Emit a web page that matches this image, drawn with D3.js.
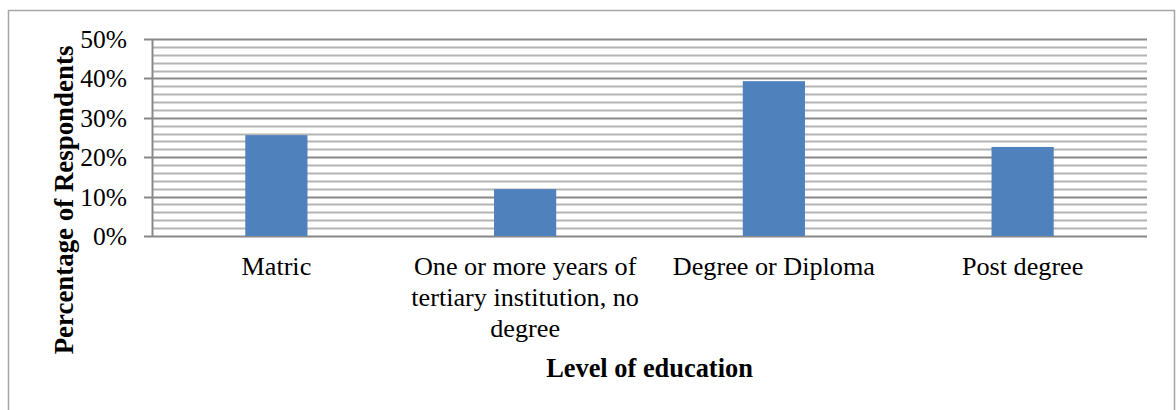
<!DOCTYPE html>
<html>
<head>
<meta charset="utf-8">
<script src="https://cdn.jsdelivr.net/npm/d3@7"></script>
<style>
  body { margin: 0; background: #fff; }
  svg { display: block; }
  text { font-family: "Liberation Serif", "Times New Roman", serif; fill: #000; }
</style>
</head>
<body>
<svg width="1176" height="410"></svg>
<script>
// data
var categories = ["Matric", "One or more years of tertiary institution, no degree", "Degree or Diploma", "Post degree"];
var categoryLines = [["Matric"], ["One or more years of", "tertiary institution, no", "degree"], ["Degree or Diploma"], ["Post degree"]];
var values = [25.6, 11.9, 39.3, 22.6];
var majorTicks = [0, 10, 20, 30, 40, 50];
var minorTicks = [2, 4, 6, 8, 12, 14, 16, 18, 22, 24, 26, 28, 32, 34, 36, 38, 42, 44, 46, 48];

var svg = d3.select("svg"),
    margin = {top: 39, right: 29, bottom: 174, left: 152},
    width = +svg.attr("width") - margin.left - margin.right,
    height = +svg.attr("height") - margin.top - margin.bottom;

// outer chart border
svg.append("rect")
    .attr("x", 8.5).attr("y", 10.5)
    .attr("width", 1166).attr("height", 430)
    .attr("fill", "none")
    .attr("stroke", "#a6a6a6")
    .attr("stroke-width", 1.5);

var g = svg.append("g").attr("transform", "translate(" + margin.left + "," + margin.top + ")");

var x = d3.scaleBand()
    .domain(categories)
    .range([0, width])
    .paddingInner(0.75)
    .paddingOuter(0.375);

var y = d3.scaleLinear()
    .domain([0, 50])
    .range([height, 0]);

// minor gridlines
g.append("g")
  .selectAll("line")
  .data(minorTicks)
  .enter().append("line")
    .attr("x1", 0).attr("x2", width)
    .attr("y1", function(d) { return Math.round(y(d)) + 0.5; })
    .attr("y2", function(d) { return Math.round(y(d)) + 0.5; })
    .attr("stroke", "#b4b4b4")
    .attr("stroke-width", 2);

// major gridlines (with the little tick to the left)
g.append("g")
  .selectAll("line")
  .data(majorTicks)
  .enter().append("line")
    .attr("x1", -8).attr("x2", width)
    .attr("y1", function(d) { return Math.round(y(d)) + 0.5; })
    .attr("y2", function(d) { return Math.round(y(d)) + 0.5; })
    .attr("stroke", "#888")
    .attr("stroke-width", 2);

// y axis line
g.append("line")
    .attr("x1", 0.5).attr("x2", 0.5)
    .attr("y1", 0).attr("y2", height)
    .attr("stroke", "#888")
    .attr("stroke-width", 2);

// bars
g.append("g")
  .selectAll("rect")
  .data(values)
  .enter().append("rect")
    .attr("x", function(d, i) { return x(categories[i]); })
    .attr("y", function(d) { return y(d); })
    .attr("width", x.bandwidth())
    .attr("height", function(d) { return height - y(d); })
    .attr("fill", "#4f81bd");

// y tick labels
g.append("g")
  .selectAll("text")
  .data(majorTicks)
  .enter().append("text")
    .attr("x", -25)
    .attr("y", function(d) { return y(d); })
    .attr("dy", "0.35em")
    .attr("text-anchor", "end")
    .attr("font-size", 25.5)
    .text(function(d) { return d + "%"; });

// category labels
var cat = g.append("g")
  .selectAll("text")
  .data(categories)
  .enter().append("text")
    .attr("text-anchor", "middle")
    .attr("font-size", 26.2)
    .attr("transform", function(d) { return "translate(" + (x(d) + x.bandwidth() / 2) + "," + (height + 39) + ")"; });
cat.selectAll("tspan")
  .data(function(d, i) { return categoryLines[i]; })
  .enter().append("tspan")
    .attr("x", 0)
    .attr("y", function(d, i) { return i * 30.8; })
    .text(function(d) { return d; });

// axis titles
g.append("text")
    .attr("x", width / 2)
    .attr("y", height + 140.5)
    .attr("text-anchor", "middle")
    .attr("font-size", 26.4)
    .attr("font-weight", "bold")
    .text("Level of education");

svg.append("text")
    .attr("transform", "translate(73,200) rotate(-90)")
    .attr("text-anchor", "middle")
    .attr("font-size", 26.9)
    .attr("font-weight", "bold")
    .text("Percentage of Respondents");
</script>
</body>
</html>
